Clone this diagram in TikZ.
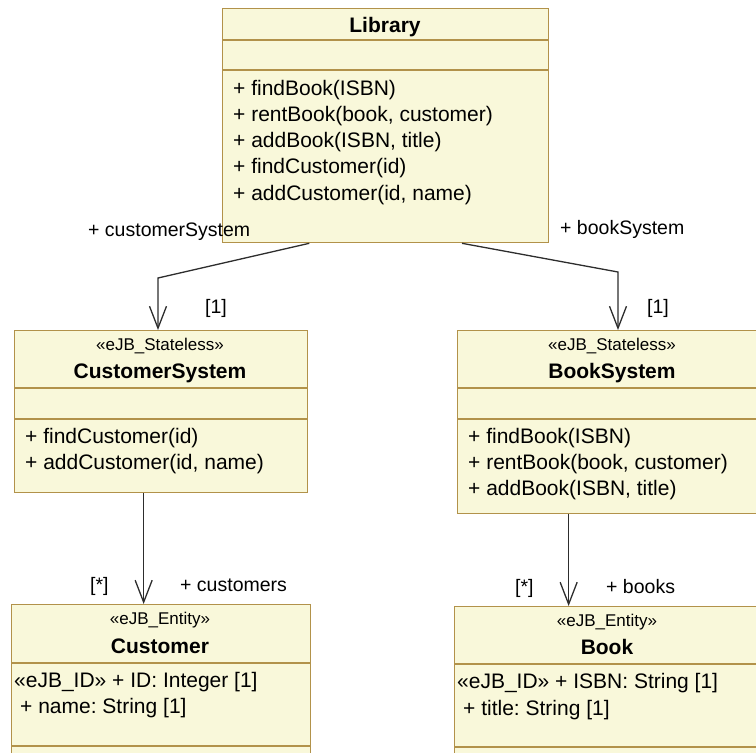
\documentclass[tikz,border=0pt]{standalone}
\usepackage{fontspec}
\setmainfont{Liberation Sans}
\usetikzlibrary{arrows.meta}
\frenchspacing
\definecolor{classfill}{RGB}{249,248,218}
\definecolor{classedge}{RGB}{178,146,74}
\definecolor{linkcol}{RGB}{45,45,45}
\tikzset{
  x=1pt, y=-1pt,
  classbox/.style={draw=classedge, fill=classfill, line width=1.3pt, rectangle, inner sep=0pt, anchor=north west},
  sep/.style={draw=classedge, line width=1.3pt},
  txt/.style={anchor=base west, inner sep=0pt, font=\fontsize{21}{25}\selectfont},
  ctitle/.style={anchor=base, inner sep=0pt, font=\fontsize{21}{25}\selectfont\bfseries},
  stereo/.style={anchor=base, inner sep=0pt, font=\fontsize{17}{20}\selectfont},
  role/.style={anchor=base west, inner sep=0pt, font=\fontsize{19.5}{23}\selectfont},
  assoc/.style={draw=linkcol, line width=1.3pt, -{Straight Barb[length=22pt,width=17pt,line width=1.3pt]}},
}
\begin{document}
\begin{tikzpicture}
\useasboundingbox (0,0) rectangle (756,753);
\clip (0,0) rectangle (756,753);

% ---------- Library ----------
\node[classbox, minimum width=326pt, minimum height=234pt] (lib) at (222,8) {};
\draw[sep] (222,40) -- (548,40);
\draw[sep] (222,70) -- (548,70);
\node[ctitle] (libname) at (385,32) {Library};
\node[txt] (lib1) at (233,95) {+ findBook(ISBN)};
\node[txt] (lib2) at (233,121) {+ rentBook(book, customer)};
\node[txt] (lib3) at (233,147) {+ addBook(ISBN, title)};
\node[txt] (lib4) at (233,173) {+ findCustomer(id)};
\node[txt] (lib5) at (233,200) {+ addCustomer(id, name)};

% ---------- CustomerSystem ----------
\node[classbox, minimum width=293pt, minimum height=162pt] (cs) at (14,330) {};
\draw[sep] (14,388) -- (307,388);
\draw[sep] (14,419) -- (307,419);
\node[stereo] (csst) at (160,350) {«eJB\_Stateless»};
\node[ctitle] (csname) at (160,378) {CustomerSystem};
\node[txt] (cs1) at (25,443) {+ findCustomer(id)};
\node[txt] (cs2) at (25,469) {+ addCustomer(id, name)};

% ---------- BookSystem ----------
\node[classbox, minimum width=311pt, minimum height=183pt] (bs) at (457,330) {};
\draw[sep] (457,388) -- (768,388);
\draw[sep] (457,419) -- (768,419);
\node[stereo] (bsst) at (612,350) {«eJB\_Stateless»};
\node[ctitle] (bsname) at (612,378) {BookSystem};
\node[txt] (bs1) at (468,443) {+ findBook(ISBN)};
\node[txt] (bs2) at (468,469) {+ rentBook(book, customer)};
\node[txt] (bs3) at (468,495) {+ addBook(ISBN, title)};

% ---------- Customer ----------
\node[classbox, minimum width=299pt, minimum height=170pt] (cu) at (11,604) {};
\draw[sep] (11,663) -- (310,663);
\draw[sep] (11,746) -- (310,746);
\node[stereo] (cust) at (160,624) {«eJB\_Entity»};
\node[ctitle] (cuname) at (160,653) {Customer};
\node[txt] (cu1) at (14,687) {«eJB\_ID» + ID: Integer [1]};
\node[txt] (cu2) at (20,713) {+ name: String [1]};

% ---------- Book ----------
\node[classbox, minimum width=306pt, minimum height=170pt] (bk) at (454,606) {};
\draw[sep] (454,664) -- (760,664);
\draw[sep] (454,747) -- (760,747);
\node[stereo] (bkst) at (607,626) {«eJB\_Entity»};
\node[ctitle] (bkname) at (607,654) {Book};
\node[txt] (bk1) at (457,688) {«eJB\_ID» + ISBN: String [1]};
\node[txt] (bk2) at (463,715) {+ title: String [1]};

% ---------- associations ----------
\coordinate (bendL) at (158,278);
\coordinate (bendR) at (618,272);
\draw[assoc] ([xshift=-240pt]lib.south east) -- (bendL) -- (bendL |- cs.north);
\draw[assoc] ([xshift=240pt]lib.south west) -- (bendR) -- (bendR |- bs.north);
\draw[assoc] ([xshift=-17.5pt]cs.south) -- ([xshift=-17.5pt]cs.south |- cu.north);
\draw[assoc] ([xshift=-44.5pt]bs.south) -- ([xshift=-44.5pt]bs.south |- bk.north);

% ---------- role names and multiplicities ----------
\node[role] (rcs) at (88,236) {+ customerSystem};
\node[role] (rbs) at (560,234) {+ bookSystem};
\node[role] (m1l) at (205,313) {[1]};
\node[role] (m1r) at (647,313) {[1]};
\node[role] (msl) at (90,591) {[*]};
\node[role] (rcu) at (180,591) {+ customers};
\node[role] (msr) at (515,593) {[*]};
\node[role] (rbk) at (606,593) {+ books};
\end{tikzpicture}
\end{document}
